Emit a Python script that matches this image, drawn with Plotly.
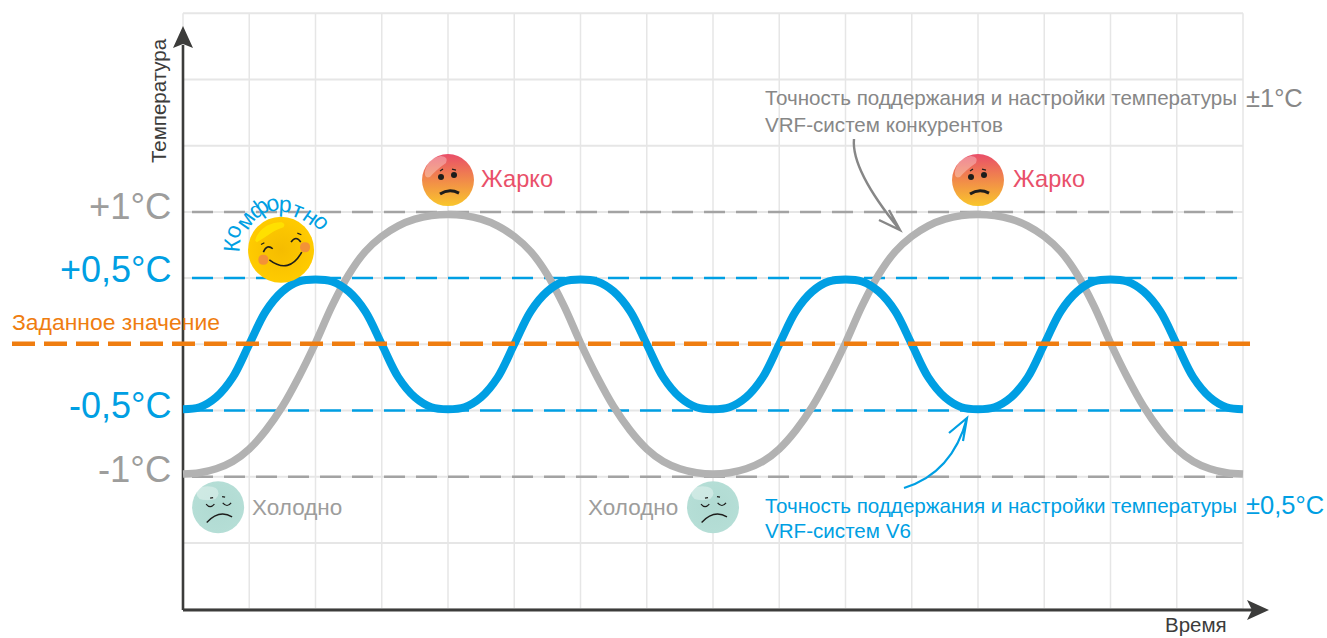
import plotly.graph_objects as go

# ---- data -------------------------------------------------------------
time_gray = [i * 0.25 for i in range(65)]
gray_period = [-0.98, -0.97, -0.94, -0.885, -0.79, -0.65, -0.47, -0.245,
               0.01, 0.29, 0.525, 0.70, 0.815, 0.895, 0.945, 0.972,
               0.98, 0.972, 0.945, 0.895, 0.815, 0.70, 0.525, 0.29,
               0.01, -0.245, -0.47, -0.65, -0.79, -0.885, -0.94, -0.97]
gray_values = gray_period * 2 + [-0.98]
time_blue = [i * 0.25 for i in range(65)]
blue_period = [-0.49, -0.475, -0.40, -0.25, 0.0, 0.25, 0.40, 0.475,
               0.49, 0.475, 0.40, 0.25, 0.0, -0.25, -0.40, -0.475]
blue_values = blue_period * 4 + [-0.49]

setpoint = 0.005
level_gray = [1.0, -1.0]
level_blue = [0.5, -0.5]
grid_times = [i for i in range(17)]
grid_temps = [2.5, 2.0, 1.5, 1.0, 0.5, 0.0, -0.5, -1.0, -1.5, -2.0]
hot_times = [4, 12]
cold_times = [0.53, 8]
comfort_time = [1.48]
hot_temp = 1.24
cold_temp = -1.23
comfort_temp = 0.714

# ---- page geometry -----------------------------------------------------
W, H = 1327, 638
PX_X0, PX_PER_T = 183.0, 66.25
PX_Y0, PX_PER_C = 344.3, 132.4
def X(px): return (px - PX_X0) / PX_PER_T
def Y(py): return (PX_Y0 - py) / PX_PER_C

GRID = "#E6E6E6"
DARK = "#3C3C3B"
BLUE = "#009FE3"
GRAY = "#B2B2B2"
GRAY_DASH = "#A3A3A3"
GRAY_TXT = "#9D9D9C"
GRAY_NOTE = "#878787"
ORANGE = "#EF7D10"
RED = "#E9506A"
FONT = "Liberation Sans"

fig = go.Figure()

def add_line(x, y, **line):
    fig.add_trace(go.Scatter(x=x, y=y, mode="lines", line=line, hoverinfo="skip", showlegend=False))

# grid
gx, gy = [], []
for t in grid_times:
    gx += [t, t, None]; gy += [grid_temps[0], grid_temps[-1], None]
add_line(gx, gy, color=GRID, width=1.5)
gx, gy = [], []
for c in grid_temps:
    gx += [grid_times[0], grid_times[-1], None]; gy += [c, c, None]
add_line(gx, gy, color=GRID, width=2)

# axes
add_line([0, 0], [Y(610), Y(45)], color=DARK, width=2.6)
add_line([0, X(1252)], [Y(610), Y(610)], color=DARK, width=3)

# reference levels
for c in level_gray:
    add_line([X(192), X(1233)], [c, c], color=GRAY_DASH, width=2.5, dash="21px,11px")
for c in level_blue:
    add_line([X(192), X(1243)], [c, c], color=BLUE, width=2.5, dash="21px,11px")

# curves
add_line(time_gray, gray_values, color=GRAY, width=7.5, shape="spline", smoothing=1)
add_line(time_blue, blue_values, color=BLUE, width=8, shape="spline", smoothing=1)
add_line([X(12), X(1250)], [setpoint, setpoint], color=ORANGE, width=4.5, dash="23px,9px")

# face discs
def discs(xs, y, size, color, gtype, gcolor):
    fig.add_trace(go.Scatter(x=xs, y=[y] * len(xs), mode="markers", hoverinfo="skip", showlegend=False,
                             marker=dict(size=size, color=color, line=dict(width=0),
                                         gradient=dict(type=gtype, color=gcolor))))
discs(hot_times, hot_temp, 52, "#E94E69", "vertical", "#F9C62B")
discs(cold_times, cold_temp, 52, "#B5DED6", "radial", "#B0DAD2")
discs(comfort_time, comfort_temp, 66, "#FFCB00", "radial", "#F5BC00")

shapes = []
def shp(ax, ay, path, fill=None, line=None, width=0):
    d = dict(type="path", xref="x", yref="y", xsizemode="pixel", ysizemode="pixel",
             xanchor=ax, yanchor=ay, path=path, layer="above",
             line=dict(width=width, color=line or "rgba(0,0,0,0)"))
    if fill:
        d["fillcolor"] = fill
    shapes.append(d)

def circle(cx, cy, rx, ry=None):
    ry = ry or rx
    return (f"M {cx-rx} {cy} Q {cx-rx} {cy+ry} {cx} {cy+ry} Q {cx+rx} {cy+ry} {cx+rx} {cy} "
            f"Q {cx+rx} {cy-ry} {cx} {cy-ry} Q {cx-rx} {cy-ry} {cx-rx} {cy} Z")

for t in hot_times:
    shp(t, hot_temp, "M -23 9 Q -20 22 -7 24 Q 1 23 -2 17 Q -12 10 -18 3 Q -24 1 -23 9 Z", "rgba(255,255,255,0.32)")
    shp(t, hot_temp, circle(-7, 3, 3), "#1D1D1B")
    shp(t, hot_temp, circle(6, 5, 3), "#1D1D1B")
    shp(t, hot_temp, "M -8 9 L -5 11", None, "#1D1D1B", 1.2)
    shp(t, hot_temp, "M 4 11 L 8 10", None, "#1D1D1B", 1.2)
    shp(t, hot_temp, "M -8 -14 Q 1 -8 11 -13", None, "#1D1D1B", 3)

for t in cold_times:
    shp(t, cold_temp, circle(-10.6, 14, 11, 7), "rgba(255,255,255,0.35)")
    shp(t, cold_temp, "M -12 3 Q -8 -2 -3.7 3", None, "#1D1D1B", 1.2)
    shp(t, cold_temp, "M 4.6 4.3 Q 9 -1 13 4.3", None, "#1D1D1B", 1.2)
    shp(t, cold_temp, "M -8 9 L -5 9.6", None, "#1D1D1B", 1.2)
    shp(t, cold_temp, "M 4 10.5 L 7 10", None, "#1D1D1B", 1.2)
    shp(t, cold_temp, "M -11.4 -15.3 Q 1 -2 14 -9.7", None, "#1D1D1B", 1.3)

for t in comfort_time:
    c = comfort_temp
    shp(t, c, "M -26 9.3 Q -24 18 -14 24.3 Q -6 28 0.7 27.6 Q 5 26 2.3 22.6 Q -6 20 -11 16 Q -18 11 -24.3 7.6 Z", "#FFE000")
    shp(t, c, circle(-17.7, -10, 5), "#F39237")
    shp(t, c, circle(24, 2.6, 5), "#F39237")
    shp(t, c, "M -11.7 -10 Q 8 -25 20.7 -2.4", None, "#1D1D1B", 1.6)
    shp(t, c, "M -17.7 -2.4 Q -14 6 -8.3 1", None, "#1D1D1B", 1.6)
    shp(t, c, "M 10 7.6 Q 15 15 19.7 7.6", None, "#1D1D1B", 1.6)
    shp(t, c, "M -20 5.3 L -16.7 7", None, "#1D1D1B", 1.2)
    shp(t, c, "M 16.3 16.6 L 20.3 15", None, "#1D1D1B", 1.2)

# axis arrow heads
shp(0, Y(26), "M 0 0 L 10 -22 L 0 -18 L -10 -22 Z", DARK)
shp(X(1269), Y(610), "M 0 0 L -22 10 L -17 0 L -22 -10 Z", DARK)

# curved note arrows
shp(X(900), Y(230), "M -46 91 Q -49 60 0 0 M -11 20 L 0 0 L -21 10", None, GRAY_NOTE, 2.4)
shp(X(967), Y(418), "M -63 -70 Q -14.5 -55 0 0 M -18 -15 L 0 0 L -4 -23", None, BLUE, 2.2)

# texts
ann = []
def text(px, py, s, size, color, anchor="left", angle=0):
    ann.append(dict(x=X(px), y=Y(py), xref="x", yref="y", text=s, showarrow=False, xanchor=anchor,
                    yanchor="middle", textangle=angle, borderpad=0, borderwidth=0,
                    font=dict(family=FONT, size=size, color=color)))

text(171, 206, "+1°C", 36.4, GRAY_TXT, "right")
text(171, 269, "+0,5°C", 36, BLUE, "right")
text(171, 405, "-0,5°C", 36, BLUE, "right")
text(171, 469, "-1°C", 36.4, GRAY_TXT, "right")
text(12, 322, "Заданное значение", 22.9, ORANGE)
text(158, 101, "Температура", 20.5, DARK, "center", -90)
text(1196, 624.5, "Время", 20.5, DARK, "center")
text(481, 179, "Жарко", 23.6, RED)
text(1013, 179, "Жарко", 23.6, RED)
text(252, 507, "Холодно", 22.5, GRAY_TXT)
text(588, 507, "Холодно", 22.5, GRAY_TXT)
text(765, 97.5, "Точность поддержания и настройки температуры", 20.6, GRAY_NOTE)
text(765, 124, "VRF-систем конкурентов", 20.6, GRAY_NOTE)
text(1246, 98, "±1°C", 25.5, GRAY_NOTE)
text(765, 505, "Точность поддержания и настройки температуры", 20.6, BLUE)
text(765, 530, "VRF-систем V6", 20.6, BLUE)
text(1246, 505, "±0,5°C", 25.5, BLUE)

arc_chars = ["К", "о", "м", "ф", "о", "р", "т", "н", "о"]
arc_px = [(232, 245), (232.6, 231), (245, 219.5), (258, 208), (272.5, 203), (285.5, 204), (298.7, 209.5), (311, 215.5), (322.5, 221.5)]
arc_ang = [-85, -72, -55, -35, -15, 3, 22, 35, 48]
for ch, (px, py), a in zip(arc_chars, arc_px, arc_ang):
    text(px, py, ch, 23, BLUE, "center", a)

fig.update_layout(
    width=W, height=H, margin=dict(l=0, r=0, t=0, b=0),
    paper_bgcolor="white", plot_bgcolor="white", showlegend=False, hovermode=False,
    xaxis=dict(range=[X(0), X(W)], visible=False, fixedrange=True),
    yaxis=dict(range=[Y(H), Y(0)], visible=False, fixedrange=True),
    shapes=shapes, annotations=ann,
)
fig.write_html("out.html", config=dict(displayModeBar=False),
               post_script="document.body.style.margin='0';")
